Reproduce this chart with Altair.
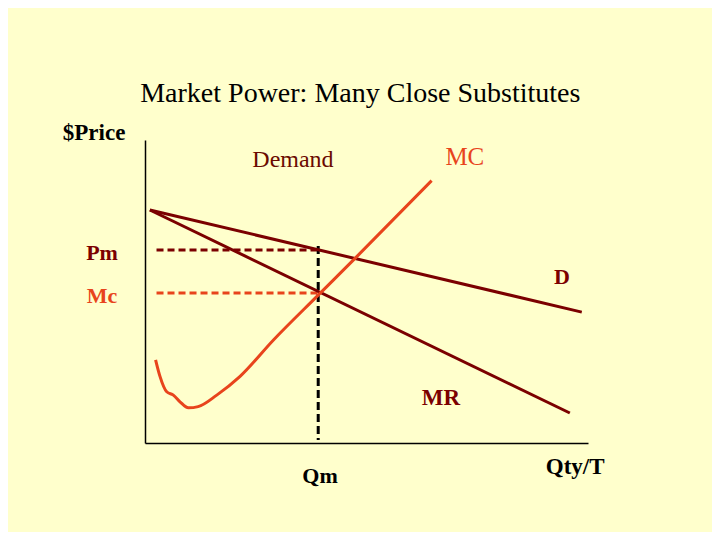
import altair as alt
import pandas as pd

# ---- data (quantity 0..100, price 0..100 units) ----
demand_q = [1.1, 98.6]
demand_p = [76.9, 43.2]

mr_q = [1.1, 95.9]
mr_p = [76.9, 9.9]

mc_q = [2.4, 3.4, 4.9, 6.4, 7.9, 9.8, 12.0, 16.2, 21.4, 29.0, 39.1, 47.8, 64.7]
mc_p = [27.4, 21.9, 16.9, 15.8, 13.6, 11.6, 12.0, 15.8, 21.9, 34.0, 48.8, 61.5, 86.6]

pm_q = [2.6, 39.1]
pm_p = [63.7, 63.7]

mcl_q = [2.6, 39.1]
mcl_p = [49.5, 49.5]

qm_q = [39.1, 39.1]
qm_p = [65.0, 1.0]

labels = ["Market Power: Many Close Substitutes", "$Price", "Demand", "MC",
          "Pm", "Mc", "D", "MR", "Qm", "Qty/T"]
label_q = [48.6, -11.5, 33.4, 72.2, -9.7, -9.7, 94.1, 66.8, 39.5, 97.1]
label_p = [115.2, 102.3, 93.4, 94.4, 62.7, 48.5, 54.8, 14.9, -10.9, -7.9]
label_color = ["#000000", "#000000", "#6B0A00", "#E8441C", "#7B0000",
               "#E8441C", "#7B0000", "#7B0000", "#000000", "#000000"]
label_weight = ["normal", "bold", "normal", "normal", "bold", "bold",
                "bold", "bold", "bold", "bold"]
label_size = [28, 23, 24, 25, 22, 22, 22, 23, 22, 23]

DARK = "#7B0000"
ORANGE = "#E8441C"

xs = alt.Scale(domain=[0, 100], nice=False, zero=False)
ys = alt.Scale(domain=[0, 100], nice=False, zero=False)
xaxis = alt.Axis(title=None, labels=False, ticks=False, grid=False,
                 domainColor="black", domainWidth=1.5)
yaxis = alt.Axis(title=None, labels=False, ticks=False, grid=False,
                 domainColor="black", domainWidth=1.5)


def df(q, p):
    return pd.DataFrame({"q": q, "p": p, "o": list(range(len(q)))})


def line(q, p, color, width=3, dash=None, interp="linear"):
    kw = dict(color=color, strokeWidth=width, interpolate=interp)
    if dash:
        kw["strokeDash"] = dash
    return alt.Chart(df(q, p)).mark_line(**kw).encode(
        x=alt.X("q:Q", scale=xs, axis=xaxis),
        y=alt.Y("p:Q", scale=ys, axis=yaxis),
        order="o:Q",
    )


layers = [
    line(pm_q, pm_p, DARK, 3, [7, 4]),
    line(mcl_q, mcl_p, ORANGE, 3, [7, 4]),
    line(qm_q, qm_p, "#000000", 3, [8, 4]),
    line(demand_q, demand_p, DARK, 3),
    line(mr_q, mr_p, DARK, 3),
    line(mc_q, mc_p, ORANGE, 3, interp="monotone"),
]

for i, t in enumerate(labels):
    d = pd.DataFrame({"q": [label_q[i]], "p": [label_p[i]], "t": [t]})
    layers.append(
        alt.Chart(d).mark_text(
            font="Liberation Serif", fontSize=label_size[i],
            fontWeight=label_weight[i], color=label_color[i],
            align="center", baseline="middle",
        ).encode(
            x=alt.X("q:Q", scale=xs, axis=xaxis),
            y=alt.Y("p:Q", scale=ys, axis=yaxis),
            text="t:N",
        )
    )

chart = alt.layer(*layers).properties(
    width=443,
    height=303,
    background="#FFFFCC",
    autosize=alt.AutoSizeParams(type="none"),
    padding={"left": 137, "top": 132, "right": 124, "bottom": 89},
).configure_view(stroke=None)

chart.save("out.html", embed_options={"renderer": "svg", "actions": False})
